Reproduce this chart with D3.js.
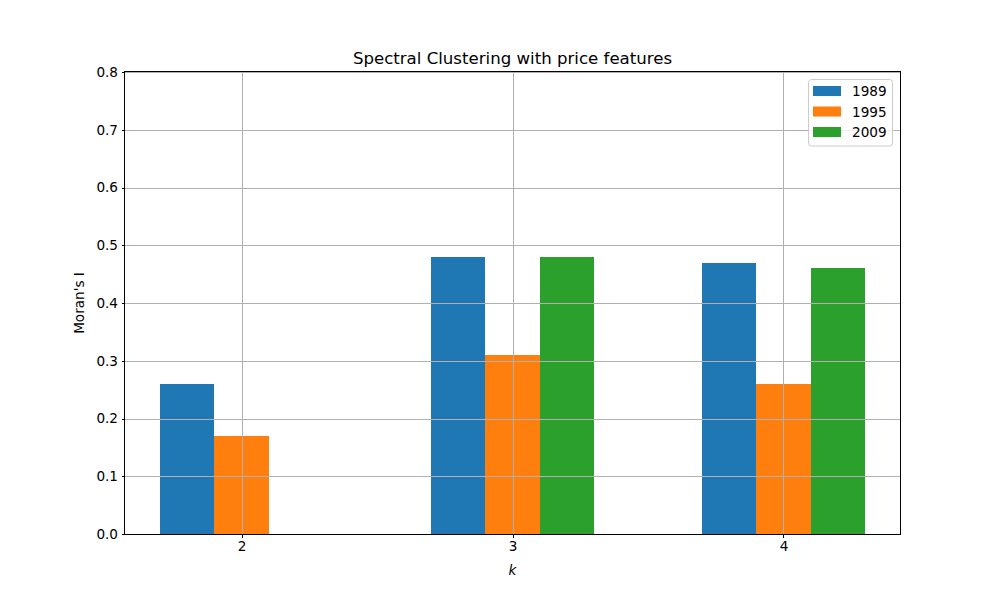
<!DOCTYPE html>
<html><head><meta charset="utf-8">
<script src="https://cdn.jsdelivr.net/npm/d3@7"></script>
<style>body{margin:0;background:#fff;} text{font-family:"DejaVu Sans",sans-serif;}</style>
</head><body>
<svg id="c" width="1000" height="600"></svg>
<script>
const categories = [2, 3, 4];
const seriesNames = ["1989", "1995", "2009"];
const values1989 = [0.26, 0.48, 0.47];
const values1995 = [0.17, 0.31, 0.26];
const values2009 = [0, 0.48, 0.46];
const yTicks = [0, 0.1, 0.2, 0.3, 0.4, 0.5, 0.6, 0.7, 0.8];
const colors = ["#1f77b4", "#ff7f0e", "#2ca02c"];
const series = [values1989, values1995, values2009];

const svg = d3.select("#c");
const L = 125, R = 900, T = 72, B = 534;
const barW = 0.2;
const x = d3.scaleLinear().domain([1.7 - 0.13, 4.3 + 0.13]).range([L, R]);
const y = d3.scaleLinear().domain([0, 0.8]).range([B, T]);

// bars
series.forEach((vals, si) => {
  const off = (si - 1) * barW;
  svg.append("g").attr("shape-rendering", "crispEdges").selectAll("rect").data(vals).join("rect")
    .attr("x", (d, i) => x(categories[i] + off - barW / 2))
    .attr("width", (d, i) => x(categories[i] + off + barW / 2) - x(categories[i] + off - barW / 2))
    .attr("y", d => y(d))
    .attr("height", d => y(0) - y(d))
    .attr("fill", colors[si]);
});

// grid (above bars)
const grid = svg.append("g").attr("stroke", "#b0b0b0").attr("stroke-width", 1).attr("shape-rendering", "crispEdges");
grid.selectAll(".gy").data(yTicks).join("line")
  .attr("x1", L).attr("x2", R).attr("y1", d => Math.round(y(d)) + 0.5).attr("y2", d => Math.round(y(d)) + 0.5);
grid.selectAll(".gx").data(categories).join("line")
  .attr("y1", T).attr("y2", B).attr("x1", d => Math.round(x(d)) + 0.5).attr("x2", d => Math.round(x(d)) + 0.5);

// axes
const xAxis = d3.axisBottom(x).tickValues(categories).tickFormat(d3.format("d")).tickSize(3.5).tickPadding(3.5);
const yAxis = d3.axisLeft(y).tickValues(yTicks).tickFormat(d3.format(".1f")).tickSize(3.5).tickPadding(3.5);
const gx = svg.append("g").attr("transform", `translate(0,${B})`).call(xAxis);
const gy = svg.append("g").attr("transform", `translate(${L},0)`).call(yAxis);
[gx, gy].forEach(g => {
  g.select(".domain").remove();
  g.selectAll(".tick line").attr("stroke", "#000").attr("stroke-width", 1).attr("shape-rendering", "crispEdges");
  g.selectAll(".tick text").attr("font-size", "13.6px").attr("fill", "#000").attr("font-family", "DejaVu Sans");
});

// frame
svg.append("rect").attr("x", L - 0.5).attr("y", T - 0.5).attr("width", R - L + 1).attr("height", B - T + 1)
  .attr("fill", "none").attr("stroke", "#000").attr("stroke-width", 1).attr("shape-rendering", "crispEdges");

// labels
svg.append("text").attr("x", (L + R) / 2).attr("y", 64).attr("text-anchor", "middle")
  .attr("font-size", "16.6px").text("Spectral Clustering with price features");
svg.append("text").attr("x", (L + R) / 2).attr("y", 575).attr("text-anchor", "middle")
  .attr("font-size", "13.6px").attr("font-style", "italic").text("k");
svg.append("text").attr("transform", `translate(84,${(T + B) / 2}) rotate(-90)`).attr("text-anchor", "middle")
  .attr("font-size", "13.6px").text("Moran's I");

// legend
const lg = svg.append("g");
lg.append("rect").attr("x", 808.5).attr("y", 79.5).attr("width", 84).attr("height", 66.5)
  .attr("rx", 3).attr("fill", "#fff").attr("fill-opacity", 0.8).attr("stroke", "#cccccc").attr("stroke-width", 1);
seriesNames.forEach((n, i) => {
  const cy = 91 + i * 20.5;
  lg.append("rect").attr("x", 813).attr("y", cy - 5).attr("width", 28).attr("height", 10).attr("fill", colors[i]);
  lg.append("text").attr("x", 852).attr("y", cy + 5).attr("font-size", "13.6px").text(n);
});
</script>
</body></html>
